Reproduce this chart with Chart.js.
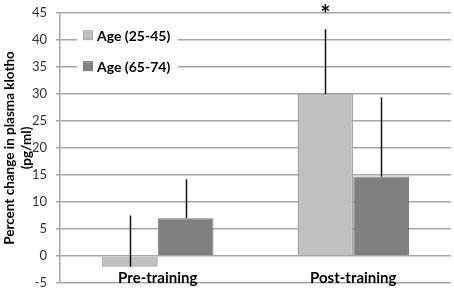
<!DOCTYPE html>
<html>
<head>
<meta charset="utf-8">
<script src="https://cdn.jsdelivr.net/npm/chart.js@4/dist/chart.umd.min.js"></script>
<style>
  html, body { margin: 0; padding: 0; background: #fff; }
  #wrap { width: 454px; height: 292px; }
</style>
</head>
<body>
<div id="wrap"><canvas id="klotho-chart"></canvas></div>
<script>
// Values
const categories = ['Pre-training', 'Post-training'];
const seriesNames = ['Age (25-45)', 'Age (65-74)'];
const youngValues = [-2, 30];
const oldValues = [7, 14.7];
const youngErrors = [9.5, 12];   // drawn upward only
const oldErrors = [7.2, 14.7];
const yTicks = [-5, 0, 5, 10, 15, 20, 25, 30, 35, 40, 45];
const significant = [false, true]; // asterisk over the young bar

const FONT = 'Lato, "Open Sans", sans-serif';

// Error bars, legend box and asterisk
const extrasPlugin = {
    id: 'extras',
    afterDatasetsDraw(chart) {
        const ctx = chart.ctx;
        const y = chart.scales.y;
        const errs = [youngErrors, oldErrors];
        ctx.save();
        ctx.strokeStyle = '#111';
        ctx.lineWidth = 1.5;
        chart.data.datasets.forEach((ds, di) => {
            const meta = chart.getDatasetMeta(di);
            meta.data.forEach((bar, i) => {
                const start = ds.data[i];
                const x = Math.round(bar.x) + 0.5;
                ctx.beginPath();
                ctx.moveTo(x, y.getPixelForValue(start));
                ctx.lineTo(x, y.getPixelForValue(start + errs[di][i]));
                ctx.stroke();
            });
        });

        // asterisk
        ctx.fillStyle = '#000';
        ctx.font = 'bold 24px ' + FONT;
        ctx.textAlign = 'center';
        ctx.textBaseline = 'middle';
        const meta0 = chart.getDatasetMeta(0);
        significant.forEach((s, i) => {
            if (s) ctx.fillText('*', meta0.data[i].x, y.getPixelForValue(45) + 2);
        });

        // legend
        const area = chart.chartArea;
        const lx = area.left + 24, ly = y.getPixelForValue(43.3);
        ctx.fillStyle = '#fff';
        ctx.fillRect(lx - 7, ly - 2, 101, 60);
        ctx.font = 'bold 14px ' + FONT;
        ctx.textAlign = 'left';
        chart.data.datasets.forEach((ds, di) => {
            const cy = ly + 13 + di * 31;
            ctx.fillStyle = ds.backgroundColor;
            ctx.fillRect(lx, cy - 4, 8, 8);
            ctx.strokeStyle = ds.borderColor;
            ctx.lineWidth = 1;
            ctx.strokeRect(lx - 0.5, cy - 4.5, 9, 9);
            ctx.fillStyle = '#000';
            ctx.fillText(ds.label, lx + 13, cy + 1);
        });
        ctx.restore();
    }
};

new Chart(document.getElementById('klotho-chart'), {
    type: 'bar',
    data: {
        labels: categories,
        datasets: [{
            label: seriesNames[0],
            data: youngValues,
            backgroundColor: '#c0c0c0',
            borderColor: '#a6a6a6',
            borderWidth: 1.5
        }, {
            label: seriesNames[1],
            data: oldValues,
            backgroundColor: '#808080',
            borderColor: '#787878',
            borderWidth: 1
        }]
    },
    options: {
        responsive: true,
        maintainAspectRatio: false,
        animation: false,
        layout: { padding: { top: 13, right: 3, bottom: 9, left: 0 } },
        plugins: {
            legend: { display: false },
            tooltip: { enabled: false }
        },
        datasets: {
            bar: { barPercentage: 1, categoryPercentage: 0.57 }
        },
        scales: {
            x: {
                position: { y: 0 },
                afterFit: scale => { scale.height = 0; },
                grid: { display: false },
                border: { display: false },
                ticks: {
                    color: '#000',
                    padding: 5,
                    font: { family: FONT, size: 15, weight: 'bold' }
                }
            },
            y: {
                min: -5,
                max: 45,
                afterBuildTicks: scale => {
                    scale.ticks = yTicks.map(v => ({ value: v }));
                },
                afterFit: scale => {
                    scale.width = 60;
                    scale.paddingTop = 0;
                    scale.paddingBottom = 0;
                },
                grid: {
                    color: '#a6a6a6',
                    lineWidth: 1.5,
                    tickLength: 4,
                    tickColor: '#a6a6a6'
                },
                border: { color: '#a6a6a6', width: 1.5 },
                ticks: {
                    color: '#333',
                    padding: 9,
                    font: { family: FONT, size: 13 }
                },
                title: {
                    display: true,
                    text: ['Percent change in plasma klotho', '(pg/ml)'],
                    color: '#000',
                    padding: { top: 1, bottom: 0 },
                    font: { family: FONT, size: 13.5, weight: 'bold', lineHeight: 1.25 }
                }
            }
        }
    },
    plugins: [extrasPlugin]
});
</script>
</body>
</html>
